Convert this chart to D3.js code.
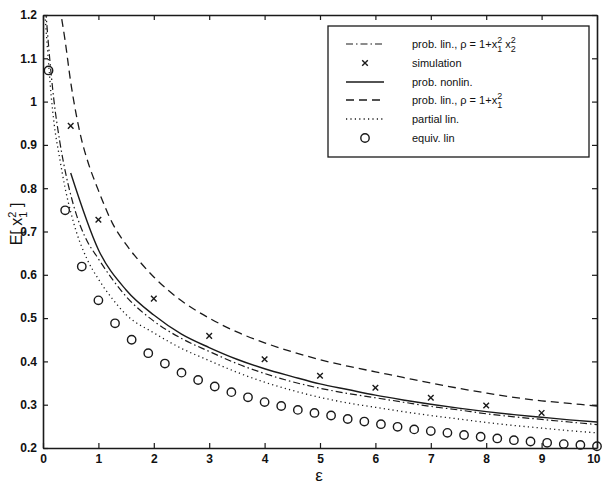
<!DOCTYPE html>
<html><head><meta charset="utf-8">
<script src="https://cdn.jsdelivr.net/npm/d3@7"></script>
<style>
body{margin:0;background:#fff;}
text{font-family:"Liberation Sans",Arial,sans-serif;fill:#111;}
</style></head>
<body><svg id="c" width="602" height="488"></svg>
<script>
// ---- data ----
const xTicks = [0,1,2,3,4,5,6,7,8,9,10];
const yTicks = [0.2,0.3,0.4,0.5,0.6,0.7,0.8,0.9,1.0,1.1,1.2];
const yTickLabels = ["0.2","0.3","0.4","0.5","0.6","0.7","0.8","0.9","1","1.1","1.2"];

// prob. lin., rho = 1+x1^2 x2^2 (dash-dot)
const dashDotEps = [0.05,0.1,0.15,0.2,0.3,0.4,0.5,0.6,0.75,1.0,1.5,2.0,2.5,3.0,3.5,4.0,4.5,5.0,5.5,6.0,6.5,7.0,7.5,8.0,8.5,9.0,9.5,10.0];
const dashDotVal = [1.21,1.13,1.06,1.0,0.91,0.84,0.785,0.74,0.69,0.637,0.55,0.493,0.453,0.423,0.395,0.372,0.353,0.338,0.326,0.316,0.306,0.296,0.288,0.279,0.272,0.266,0.260,0.254];

// simulation (x markers)
const simEps = [0.5,1,2,3,4,5,6,7,8,9];
const simVal = [0.944,0.727,0.545,0.459,0.405,0.367,0.339,0.316,0.298,0.281];

// prob. nonlin. (solid)
const nonlinEps = [0.5,1.0,1.5,2.0,2.5,3.0,3.5,4.0,4.5,5.0,5.5,6.0,6.5,7.0,7.5,8.0,8.5,9.0,9.5,10.0];
const nonlinVal = [0.835,0.658,0.565,0.507,0.463,0.432,0.405,0.383,0.365,0.348,0.335,0.322,0.311,0.301,0.292,0.284,0.277,0.271,0.265,0.260];

// prob. lin., rho = 1+x1^2 (dashed)
const dashedEps = [0.3,0.4,0.5,0.6,0.7,0.8,1.0,1.25,1.5,1.75,2.0,2.5,3.0,3.5,4.0,4.5,5.0,5.5,6.0,6.5,7.0,7.5,8.0,8.5,9.0,9.5,10.0];
const dashedVal = [1.22,1.14,1.045,0.97,0.91,0.865,0.795,0.72,0.67,0.63,0.595,0.54,0.50,0.468,0.443,0.422,0.404,0.389,0.376,0.363,0.350,0.338,0.327,0.317,0.309,0.303,0.297];

// partial lin. (dotted)
const partialEps = [0.03,0.1,0.15,0.2,0.3,0.4,0.5,0.6,0.8,1.0,1.25,1.5,2.0,2.5,3.0,3.5,4.0,4.5,5.0,5.5,6.0,6.5,7.0,7.5,8.0,8.5,9.0,9.5,10.0];
const partialVal = [1.21,1.09,1.01,0.95,0.87,0.80,0.745,0.70,0.635,0.59,0.545,0.508,0.466,0.43,0.402,0.375,0.352,0.333,0.317,0.304,0.294,0.284,0.275,0.267,0.259,0.252,0.246,0.240,0.235];

// equiv. lin (circles)
const equivEps = [0.1,0.4,0.7,1.0,1.3,1.6,1.9,2.2,2.5,2.8,3.1,3.4,3.7,4.0,4.3,4.6,4.9,5.2,5.5,5.8,6.1,6.4,6.7,7.0,7.3,7.6,7.9,8.2,8.5,8.8,9.1,9.4,9.7,10.0];
const equivVal = [1.072,0.749,0.619,0.541,0.488,0.450,0.419,0.395,0.374,0.357,0.342,0.329,0.317,0.306,0.297,0.288,0.281,0.275,0.267,0.261,0.255,0.249,0.243,0.239,0.235,0.230,0.226,0.222,0.218,0.215,0.212,0.209,0.207,0.204];

// ---- chart ----
const svg = d3.select("#c");
const L = 43, R = 597, T = 15, B = 448;
const x = d3.scaleLinear().domain([0,10]).range([L,R]);
const y = d3.scaleLinear().domain([0.2,1.2]).range([B,T]);
const ink = "#1a1a1a";

svg.append("defs").append("clipPath").attr("id","clip")
  .append("rect").attr("x",L).attr("y",T).attr("width",R-L).attr("height",B-T);

// axes with inward ticks
const tl = 5;
const fmtY = d=>yTickLabels[yTicks.indexOf(d)];
const axB = svg.append("g").attr("transform",`translate(0,${B})`)
  .call(d3.axisBottom(x).tickValues(xTicks).tickSizeInner(-tl).tickSizeOuter(0).tickPadding(8).tickFormat(d3.format("d")));
const axT = svg.append("g").attr("transform",`translate(0,${T})`)
  .call(d3.axisTop(x).tickValues(xTicks).tickSizeInner(-tl).tickSizeOuter(0).tickFormat(""));
const axL = svg.append("g").attr("transform",`translate(${L},0)`)
  .call(d3.axisLeft(y).tickValues(yTicks).tickSizeInner(-tl).tickSizeOuter(0).tickPadding(6).tickFormat(fmtY));
const axR = svg.append("g").attr("transform",`translate(${R},0)`)
  .call(d3.axisRight(y).tickValues(yTicks).tickSizeInner(-tl).tickSizeOuter(0).tickFormat(""));
[axB,axT,axL,axR].forEach(g=>{
  g.selectAll("path.domain").attr("stroke",ink).attr("stroke-width",1.6);
  g.selectAll(".tick line").attr("stroke",ink).attr("stroke-width",1.2);
  g.selectAll("text").attr("font-size",12).attr("font-family","Liberation Sans, Arial, sans-serif").attr("fill","#111").attr("font-weight","bold");
});
axB.selectAll("text").attr("dy","0.6em");
// last x label sits at the right edge; keep it inside the window
axB.selectAll(".tick text").filter(d=>d===10).attr("text-anchor","end").attr("dx","3");

const plot = svg.append("g").attr("clip-path","url(#clip)");
const mk = (e,v)=>e.map((d,i)=>[d,v[i]]);
const line = d3.line().x(d=>x(d[0])).y(d=>y(d[1])).curve(d3.curveMonotoneX);

const series = [
  {data:mk(dashedEps,dashedVal), dash:"8,5", w:1.3},
  {data:mk(dashDotEps,dashDotVal), dash:"7,3,1.5,3", w:1.2},
  {data:mk(nonlinEps,nonlinVal), dash:null, w:1.4},
  {data:mk(partialEps,partialVal), dash:"1.2,3.2", w:1.3},
];
series.forEach(s=>{
  plot.append("path").datum(s.data).attr("d",line).attr("fill","none")
    .attr("stroke",ink).attr("stroke-width",s.w).attr("stroke-dasharray",s.dash);
});

// circles
svg.append("g").selectAll("circle").data(mk(equivEps,equivVal)).join("circle")
  .attr("cx",d=>x(d[0])).attr("cy",d=>y(d[1])).attr("r",4.2)
  .attr("fill","none").attr("stroke",ink).attr("stroke-width",1.4);

// x markers
const xm = 2.8;
const sim = svg.append("g");
mk(simEps,simVal).forEach(d=>{
  const cx=x(d[0]), cy=y(d[1]);
  sim.append("path").attr("d",`M${cx-xm},${cy-xm}L${cx+xm},${cy+xm}M${cx-xm},${cy+xm}L${cx+xm},${cy-xm}`)
    .attr("stroke",ink).attr("stroke-width",1.4);
});

// legend
const lg = svg.append("g");
lg.append("rect").attr("x",328).attr("y",26).attr("width",261).attr("height",131)
  .attr("fill","#fff").attr("stroke",ink).attr("stroke-width",1.3);
const rows = [44,63,82,100,119,138];
const lx1=346, lx2=384, tx=412;
function legLine(yy,dash,w){ lg.append("line").attr("x1",lx1).attr("x2",lx2).attr("y1",yy).attr("y2",yy)
  .attr("stroke",ink).attr("stroke-width",w).attr("stroke-dasharray",dash); }
legLine(rows[0],"7,3,1.5,3",1.2);
{ const cx=(lx1+lx2)/2, cy=rows[1];
  lg.append("path").attr("d",`M${cx-xm},${cy-xm}L${cx+xm},${cy+xm}M${cx-xm},${cy+xm}L${cx+xm},${cy-xm}`).attr("stroke",ink).attr("stroke-width",1.4); }
legLine(rows[2],null,1.4);
legLine(rows[3],"8,5",1.3);
legLine(rows[4],"1.2,3.2",1.3);
lg.append("circle").attr("cx",(lx1+lx2)/2).attr("cy",rows[5]).attr("r",4.2).attr("fill","none").attr("stroke",ink).attr("stroke-width",1.4);

function lt(yy){ return lg.append("text").attr("x",tx).attr("y",yy+4).attr("font-size",11); }
{ const t = lt(rows[0]);
  t.append("tspan").text("prob. lin., ρ = 1+x");
  t.append("tspan").attr("font-size",9).attr("dy",-5).text("2");
  t.append("tspan").attr("font-size",9).attr("dx",-5).attr("dy",9).text("1");
  t.append("tspan").attr("dy",-4).text(" x");
  t.append("tspan").attr("font-size",9).attr("dy",-5).text("2");
  t.append("tspan").attr("font-size",9).attr("dx",-5).attr("dy",9).text("2");
}
lt(rows[1]).text("simulation");
lt(rows[2]).text("prob. nonlin.");
{ const t = lt(rows[3]);
  t.append("tspan").text("prob. lin., ρ = 1+x");
  t.append("tspan").attr("font-size",9).attr("dy",-5).text("2");
  t.append("tspan").attr("font-size",9).attr("dx",-5).attr("dy",9).text("1");
}
lt(rows[4]).text("partial lin.");
lt(rows[5]).text("equiv. lin");

// axis labels
svg.append("text").attr("x",319).attr("y",481).attr("text-anchor","middle").attr("font-size",17).text("ε");
{ const t = svg.append("text").attr("transform","translate(22,224) rotate(-90)").attr("text-anchor","middle").attr("font-size",16);
  t.append("tspan").text("E[ x");
  t.append("tspan").attr("font-size",11).attr("dy",-6).text("2");
  t.append("tspan").attr("font-size",11).attr("dx",-6).attr("dy",11).text("1");
  t.append("tspan").attr("dy",-5).text(" ]");
}
</script></body></html>
